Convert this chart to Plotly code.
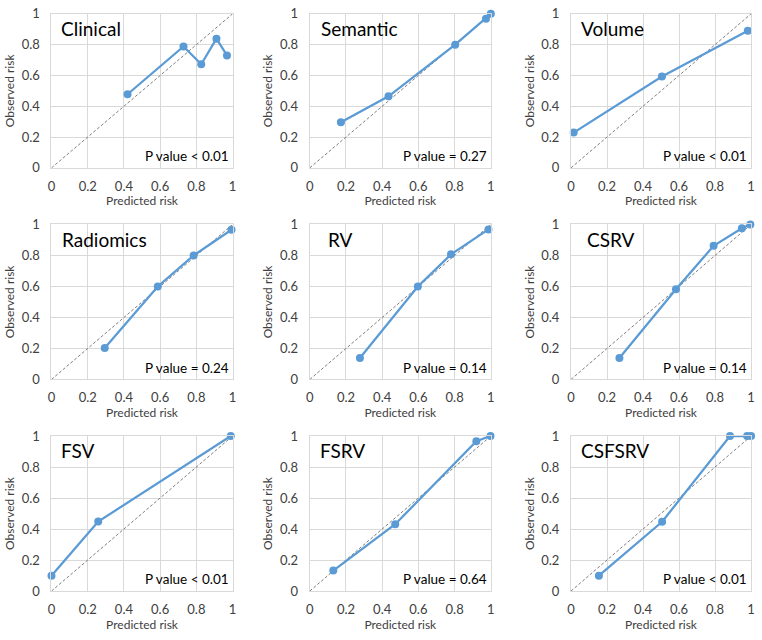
import plotly.graph_objects as go

# ---- data ----
panel_names = ["Clinical", "Semantic", "Volume", "Radiomics", "RV", "CSRV", "FSV", "FSRV", "CSFSRV"]
p_labels = ["P value < 0.01", "P value = 0.27", "P value < 0.01",
            "P value = 0.24", "P value = 0.14", "P value = 0.14",
            "P value < 0.01", "P value = 0.64", "P value < 0.01"]

clinical_x = [0.42, 0.729, 0.827, 0.911, 0.969]
clinical_y = [0.478, 0.788, 0.673, 0.839, 0.730]
semantic_x = [0.172, 0.435, 0.803, 0.973, 1.0]
semantic_y = [0.296, 0.465, 0.80, 0.969, 1.0]
volume_x = [0.015, 0.505, 0.982]
volume_y = [0.229, 0.593, 0.89]
radiomics_x = [0.294, 0.587, 0.785, 0.994]
radiomics_y = [0.203, 0.60, 0.80, 0.966]
rv_x = [0.277, 0.597, 0.78, 0.987]
rv_y = [0.138, 0.60, 0.807, 0.968]
csrv_x = [0.269, 0.583, 0.792, 0.949, 0.996]
csrv_y = [0.138, 0.582, 0.862, 0.975, 1.0]
fsv_x = [0.0, 0.258, 0.99]
fsv_y = [0.099, 0.448, 1.0]
fsrv_x = [0.13, 0.472, 0.92, 0.998]
fsrv_y = [0.132, 0.431, 0.967, 1.0]
csfsrv_x = [0.155, 0.506, 0.883, 0.978, 1.0]
csfsrv_y = [0.099, 0.447, 1.0, 1.0, 1.0]

tick_vals = [0, 0.2, 0.4, 0.6, 0.8, 1]
tick_text = ["0", "0.2", "0.4", "0.6", "0.8", "1"]
diag = [0, 1]

series_x = [clinical_x, semantic_x, volume_x, radiomics_x, rv_x, csrv_x, fsv_x, fsrv_x, csfsrv_x]
series_y = [clinical_y, semantic_y, volume_y, radiomics_y, rv_y, csrv_y, fsv_y, fsrv_y, csfsrv_y]

# ---- layout constants ----
W, H = 762, 640
col_px = [(48, 231), (309, 492), (573, 755)]
row_px = [(6, 164), (222, 381), (439, 598)]
title_offset = [0.04, 0.05, 0.045, 0.045, 0.09, 0.08, 0.04, 0.045, 0.045]

FONT = "Lato, Open Sans, sans-serif"
BLUE = "#5B9BD5"
GRID = "#D9D9D9"

fig = go.Figure()
layout = dict(
    width=W, height=H,
    margin=dict(l=0, r=0, t=0, b=0),
    paper_bgcolor="white", plot_bgcolor="white",
    showlegend=False,
    font=dict(family=FONT, color="#404040"),
    annotations=[],
)

for i in range(9):
    r, c = divmod(i, 3)
    n = i + 1
    xa = "x" if n == 1 else f"x{n}"
    ya = "y" if n == 1 else f"y{n}"
    x0, x1 = col_px[c]
    y0, y1 = row_px[r]
    axis_common = dict(
        range=[0, 1], tickvals=tick_vals, ticktext=tick_text,
        showgrid=True, gridcolor=GRID, gridwidth=1,
        zeroline=False, showline=True, linecolor=GRID, linewidth=1, mirror=True,
        ticks="", tickfont=dict(size=13, color="#404040", family=FONT),
        fixedrange=True,
    )
    layout["xaxis" if n == 1 else f"xaxis{n}"] = dict(
        axis_common,
        domain=[x0 / W, x1 / W], anchor=ya,
        ticklabelstandoff=6,
        title=dict(text="Predicted risk", font=dict(size=12, color="#404040", family=FONT), standoff=4),
    )
    layout["yaxis" if n == 1 else f"yaxis{n}"] = dict(
        axis_common,
        domain=[1 - y1 / H, 1 - y0 / H], anchor=xa,
        ticklabelstandoff=8,
        title=dict(text="Observed risk", font=dict(size=12, color="#404040", family=FONT), standoff=4),
    )
    fig.add_trace(go.Scatter(
        x=diag, y=diag, mode="lines", xaxis=xa, yaxis=ya,
        line=dict(color="#7F7F7F", width=1, dash="3px,2px"), hoverinfo="skip",
    ))
    fig.add_trace(go.Scatter(
        x=series_x[i], y=series_y[i], mode="lines+markers", xaxis=xa, yaxis=ya,
        line=dict(color=BLUE, width=2.25),
        marker=dict(color=BLUE, size=8, symbol="circle"),
        cliponaxis=False,
    ))
    layout["annotations"].append(dict(
        text=panel_names[i], xref=f"{xa} domain", yref=f"{ya} domain",
        x=title_offset[i], y=0.905, xanchor="left", yanchor="middle",
        showarrow=False, font=dict(size=19, color="#000000", family=FONT),
    ))
    layout["annotations"].append(dict(
        text=p_labels[i], xref=f"{xa} domain", yref=f"{ya} domain",
        x=0.99, y=0.075, xanchor="right", yanchor="middle",
        showarrow=False, font=dict(size=13.5, color="#000000", family=FONT),
    ))

fig.update_layout(**layout)
fig.write_html("out.html", config={"displayModeBar": False},
               post_script="document.body.style.margin='0';")
